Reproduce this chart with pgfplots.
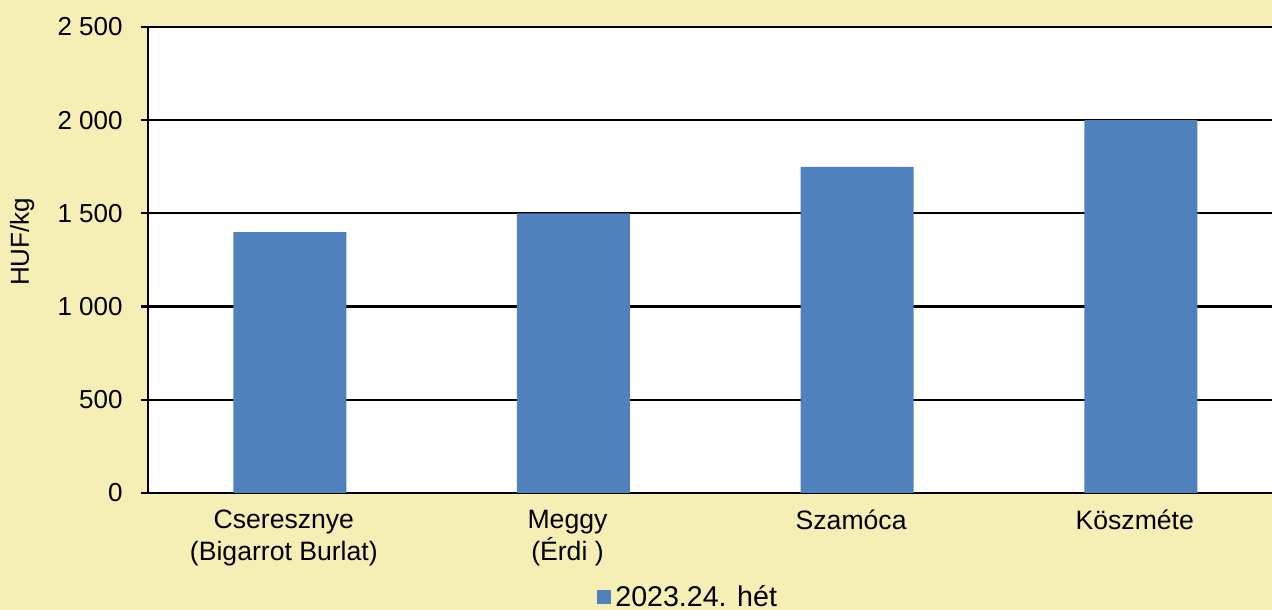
\documentclass[border=0pt]{standalone}
\usepackage{pgfplots}
\pgfplotsset{compat=1.18}
\usepackage{fontspec}
\setmainfont{Liberation Sans}
\definecolor{bg}{HTML}{F5EFB5}
\definecolor{barblue}{HTML}{4F81BD}
\begin{document}
\begin{tikzpicture}
\clip (0,0) rectangle (636bp,305bp);
\fill[bg] (0,0) rectangle (636bp,305bp);
\begin{axis}[
  at={(74bp,58.5bp)}, anchor=south west,
  scale only axis, width=567.3bp, height=233bp,
  xmin=-0.5, xmax=3.5, ymin=0, ymax=2500,
  ytick={0,500,1000,1500,2000,2500},
  xtick={0,1,2,3},
  xticklabels={{Cseresznye\\(Bigarrot Burlat)},{Meggy\\(Érdi )},Szamóca,Köszméte},
  font=\fontsize{13bp}{15.6bp}\selectfont,
  /pgf/number format/assume math mode=true,
  /pgf/number format/1000 sep={\ },
  axis background/.style={fill=white},
  axis x line=bottom, axis y line=left,
  axis line style={-, black, line width=1.1bp},
  ymajorgrids, major grid style={black, line width=1.1bp},
  ytick align=outside, major tick length=3.5bp,
  ytick style={black, line width=1.1bp},
  xtick style={draw=none},
  yticklabel style={anchor=east, inner sep=0pt, xshift=-9bp},
  xticklabel style={anchor=north, inner sep=0pt, yshift=-5bp, xshift=-3bp, align=center, font=\fontsize{13.3bp}{16bp}\selectfont},
  ylabel={HUF/kg},
  ylabel style={at={(axis description cs:-0.111,0.539)}, anchor=center},
  legend style={at={(axis description cs:0.3957,-0.2232)}, anchor=west, draw=none, fill=none, inner sep=0pt, font=\fontsize{14.3bp}{17bp}\selectfont},
  ybar, bar width=56.5bp,
]
\addplot[fill=barblue, draw=none, legend image code/.code={\fill[barblue] (0bp,-3.5bp) rectangle (7bp,3.5bp);}] coordinates {(0,1400) (1,1500) (2,1750) (3,2000)};
\addlegendentry{2023.24. hét}
\end{axis}
\end{tikzpicture}
\end{document}
